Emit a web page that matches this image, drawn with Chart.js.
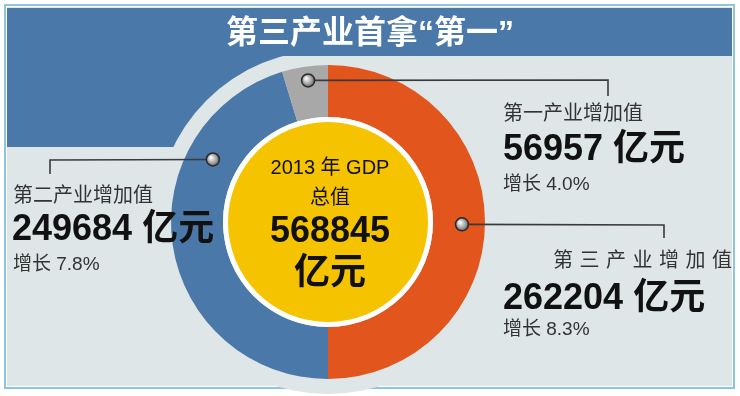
<!DOCTYPE html>
<html>
<head>
<meta charset="utf-8">
<script src="https://cdn.jsdelivr.net/npm/chart.js@4.4.1/dist/chart.umd.min.js"></script>
<style>
    html, body { margin: 0; padding: 0; background: #fff; }
    #wrap { position: relative; width: 740px; height: 396px; overflow: hidden; }
    #gdpChart { position: absolute; left: 0; top: 0; }
    .txt { position: absolute; white-space: nowrap; line-height: 1; font-family: "Liberation Sans", "Noto Sans CJK SC", sans-serif; }
    .title { color: #fff; font-weight: bold; font-size: 32px; text-align: center; width: 400px; }
    .label { color: #333; font-size: 20px; }
    .value { color: #111; font-weight: bold; font-size: 36px; }
    .growth { color: #333; font-size: 19px; }
    .center { color: #111; text-align: center; width: 220px; }
</style>
</head>
<body>
<div id="wrap">
    <canvas id="gdpChart" width="740" height="396"></canvas>
</div>
<script>
// 三次产业数据 (2013)
const sectors = ['第三产业增加值', '第二产业增加值', '第一产业增加值'];
const sectorValues = [262204, 249684, 56957];
const sectorGrowth = ['8.3%', '7.8%', '4.0%'];
// 原图环形各段实际画出的角度（度），图上并未按数值比例绘制
const drawnShare = [180, 163, 17];
const totalGdp = 568845;
const gdpYear = 2013;
const chartTitle = '第三产业首拿“第一”';

const sliceColors = ['#e2561d', '#4a78a8', '#a8a8a8'];
const BG = '#dee6e8';
const BLUE = '#4a78a8';

// 引线：角度(自顶部顺时针), 半径, 折点
const leaders = [
    { angle: 91, r: 134, pts: [[664, 225], [664, 238]] },
    { angle: -61.5, r: 131, pts: [[50, 160], [50, 174]] },
    { angle: -8, r: 143, pts: [[608, 80], [608, 96]] }
];

const backdrop = {
    id: 'backdrop',
    beforeDraw(chart) {
        const ctx = chart.ctx;
        const arc = chart.getDatasetMeta(0).data[0];
        const cx = arc.x, cy = arc.y;
        ctx.save();
        ctx.fillStyle = '#fff';
        ctx.fillRect(0, 0, 740, 396);
        ctx.strokeStyle = '#8fc3e2';
        ctx.lineWidth = 2;
        ctx.strokeRect(5, 5, 729, 383);
        ctx.fillStyle = BG;
        ctx.fillRect(7, 7, 725, 379);
        // 左侧蓝色块，环形外留出浅色圈
        ctx.fillStyle = BLUE;
        ctx.fillRect(7, 50, cx - 7, 97);
        ctx.fillStyle = BG;
        ctx.beginPath();
        ctx.arc(cx, cy, 172, 0, Math.PI * 2);
        ctx.fill();
        // 标题栏
        ctx.fillStyle = BLUE;
        ctx.fillRect(7, 8, 725, 48);
        ctx.restore();
    },
    afterDatasetsDraw(chart) {
        const ctx = chart.ctx;
        const arc = chart.getDatasetMeta(0).data[0];
        const cx = arc.x, cy = arc.y;
        const inner = arc.innerRadius;
        ctx.save();
        ctx.fillStyle = '#fff';
        ctx.beginPath();
        ctx.arc(cx, cy, inner, 0, Math.PI * 2);
        ctx.fill();
        ctx.fillStyle = '#f5c300';
        ctx.beginPath();
        ctx.arc(cx, cy, inner - 5, 0, Math.PI * 2);
        ctx.fill();

        leaders.forEach(l => {
            const a = l.angle * Math.PI / 180;
            const x = cx + l.r * Math.sin(a);
            const y = cy - l.r * Math.cos(a);
            ctx.strokeStyle = '#3a3a3a';
            ctx.lineWidth = 1.6;
            ctx.beginPath();
            ctx.moveTo(x, y);
            l.pts.forEach(p => ctx.lineTo(p[0], p[1]));
            ctx.stroke();
            const g = ctx.createRadialGradient(x - 2, y - 2, 1, x, y, 7);
            g.addColorStop(0, '#f2f2f2');
            g.addColorStop(0.6, '#a0a0a0');
            g.addColorStop(1, '#555');
            ctx.fillStyle = g;
            ctx.beginPath();
            ctx.arc(x, y, 6.5, 0, Math.PI * 2);
            ctx.fill();
            ctx.lineWidth = 1.5;
            ctx.strokeStyle = '#2a2a2a';
            ctx.stroke();
        });
        ctx.restore();
    }
};

new Chart(document.getElementById('gdpChart'), {
    type: 'doughnut',
    data: {
        labels: sectors,
        datasets: [{
            data: drawnShare,
            backgroundColor: sliceColors,
            borderWidth: 0
        }]
    },
    options: {
        responsive: false,
        animation: false,
        cutout: 105,
        layout: { padding: { left: 171, right: 255, top: 65, bottom: 17 } },
        plugins: { legend: { display: false }, tooltip: { enabled: false } }
    },
    plugins: [backdrop]
});

// 文字
const wrap = document.getElementById('wrap');
function addText(cls, text, x, cy, size, extra) {
    const d = document.createElement('div');
    d.className = 'txt ' + cls;
    d.textContent = text;
    d.style.left = x + 'px';
    d.style.top = (cy - size / 2) + 'px';
    if (extra) Object.assign(d.style, extra);
    wrap.appendChild(d);
    return d;
}
const fmt = v => String(v);

addText('title', chartTitle, 170, 32, 32);

// 第二产业 (左)
addText('label', sectors[1], 13, 195, 20);
addText('value', fmt(sectorValues[1]) + ' 亿元', 12, 228, 36);
addText('growth', '增长 ' + sectorGrowth[1], 13, 263, 19);

// 第一产业 (右上)
addText('label', sectors[2], 503, 113, 20);
addText('value', fmt(sectorValues[2]) + ' 亿元', 503, 148, 36);
addText('growth', '增长 ' + sectorGrowth[2], 503, 183, 19);

// 第三产业 (右下)
addText('label', sectors[0], 553, 260, 20, { letterSpacing: '6.5px' });
addText('value', fmt(sectorValues[0]) + ' 亿元', 503, 297, 36);
addText('growth', '增长 ' + sectorGrowth[0], 503, 328, 19);

// 中心
addText('center', gdpYear + ' 年 GDP', 220, 167, 20, { fontSize: '20px' });
addText('center', '总值', 220, 197, 20, { fontSize: '20px' });
addText('center', fmt(totalGdp), 220, 230, 36, { fontSize: '36px', fontWeight: 'bold' });
addText('center', '亿元', 220, 272, 36, { fontSize: '36px', fontWeight: 'bold' });
</script>
</body>
</html>
